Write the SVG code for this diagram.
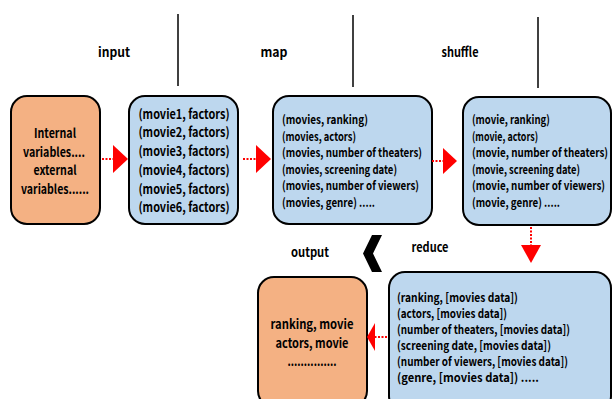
<svg xmlns="http://www.w3.org/2000/svg" width="612" height="399" viewBox="0 0 612 399">
  <style>
    text { font-family: "Noto Sans CJK KR", "Noto Sans", sans-serif; font-weight: bold; fill: #000; }
    .hdr { font-size: 13px; text-anchor: middle; }
    .box { stroke: #000; stroke-width: 2; }
    .blue { fill: #BDD7EE; }
    .orange { fill: #F4B183; }
    .t { font-size: 12px; }
    .tc { font-size: 13px; text-anchor: middle; }
    .sep { stroke: #000; stroke-width: 1.5; }
    .dot { stroke: #FF0000; stroke-width: 2; stroke-dasharray: 2 1.5; fill: none; }
    .head { fill: #FF0000; }
  </style>

  <!-- stage headings and separators -->
  <g id="headers">
    <text class="hdr" x="114" y="57" textLength="32" lengthAdjust="spacingAndGlyphs">input</text>
    <text class="hdr" x="274" y="57" textLength="27" lengthAdjust="spacingAndGlyphs">map</text>
    <text class="hdr" x="460" y="57" textLength="37" lengthAdjust="spacingAndGlyphs">shuffle</text>
    <line class="sep" x1="178" y1="14" x2="178" y2="86"/>
    <line class="sep" x1="353" y1="15" x2="353" y2="87"/>
    <line class="sep" x1="538" y1="17" x2="538" y2="88"/>
  </g>

  <g id="source">
    <rect class="box orange" x="11" y="96" width="89" height="128" rx="16"/>
    <text class="tc" x="55" y="137.5" textLength="42" lengthAdjust="spacingAndGlyphs">Internal</text>
    <text class="tc" x="54" y="156.5" textLength="62" lengthAdjust="spacingAndGlyphs">variables....</text>
    <text class="tc" x="55" y="174.5" textLength="43" lengthAdjust="spacingAndGlyphs">external</text>
    <text class="tc" x="55" y="193.5" textLength="68" lengthAdjust="spacingAndGlyphs">variables......</text>
  </g>

  <g id="input">
    <rect class="box blue" x="129" y="96" width="109" height="128" rx="16"/>
    <text class="tc" x="184" y="118.5" textLength="91" lengthAdjust="spacingAndGlyphs">(movie1, factors)</text>
    <text class="tc" x="184" y="137" textLength="91" lengthAdjust="spacingAndGlyphs">(movie2, factors)</text>
    <text class="tc" x="184" y="155.5" textLength="91" lengthAdjust="spacingAndGlyphs">(movie3, factors)</text>
    <text class="tc" x="184" y="174.5" textLength="91" lengthAdjust="spacingAndGlyphs">(movie4, factors)</text>
    <text class="tc" x="184" y="193.5" textLength="91" lengthAdjust="spacingAndGlyphs">(movie5, factors)</text>
    <text class="tc" x="184" y="212" textLength="91" lengthAdjust="spacingAndGlyphs">(movie6, factors)</text>
  </g>

  <g id="map">
    <rect class="box blue" x="273" y="96" width="159" height="128" rx="16"/>
    <text class="t" x="282" y="124" textLength="86" lengthAdjust="spacingAndGlyphs">(movies, ranking)</text>
    <text class="t" x="282" y="140.5" textLength="74" lengthAdjust="spacingAndGlyphs">(movies, actors)</text>
    <text class="t" x="282" y="157" textLength="140" lengthAdjust="spacingAndGlyphs">(movies, number of theaters)</text>
    <text class="t" x="282" y="173.5" textLength="115" lengthAdjust="spacingAndGlyphs">(movies, screening date)</text>
    <text class="t" x="282" y="190" textLength="137" lengthAdjust="spacingAndGlyphs">(movies, number of viewers)</text>
    <text class="t" x="282" y="206.5" textLength="93" lengthAdjust="spacingAndGlyphs">(movies, genre) .....</text>
  </g>

  <g id="shuffle">
    <rect class="box blue" x="463" y="97" width="148" height="128" rx="16"/>
    <text class="t" x="472" y="124" textLength="78" lengthAdjust="spacingAndGlyphs">(movie, ranking)</text>
    <text class="t" x="472" y="140.5" textLength="66" lengthAdjust="spacingAndGlyphs">(movie, actors)</text>
    <text class="t" x="472" y="157" textLength="136" lengthAdjust="spacingAndGlyphs">(movie, number of theaters)</text>
    <text class="t" x="472" y="173.5" textLength="108" lengthAdjust="spacingAndGlyphs">(movie, screening date)</text>
    <text class="t" x="472" y="190" textLength="133" lengthAdjust="spacingAndGlyphs">(movie, number of viewers)</text>
    <text class="t" x="472" y="206.5" textLength="88" lengthAdjust="spacingAndGlyphs">(movie, genre) .....</text>
  </g>

  <g id="reduce">
    <text class="hdr" x="430" y="252" textLength="37" lengthAdjust="spacingAndGlyphs">reduce</text>
    <rect class="box blue" x="389" y="272" width="222" height="140" rx="16"/>
    <text class="t" x="397" y="301.5" textLength="121" lengthAdjust="spacingAndGlyphs">(ranking, [movies data])</text>
    <text class="t" x="397" y="317.5" textLength="110" lengthAdjust="spacingAndGlyphs">(actors, [movies data])</text>
    <text class="t" x="397" y="333.5" textLength="173" lengthAdjust="spacingAndGlyphs">(number of theaters, [movies data])</text>
    <text class="t" x="397" y="349.5" textLength="154" lengthAdjust="spacingAndGlyphs">(screening date, [movies data])</text>
    <text class="t" x="397" y="365.5" textLength="171" lengthAdjust="spacingAndGlyphs">(number of viewers, [movies data])</text>
    <text class="t" x="397" y="381.5" textLength="142" lengthAdjust="spacingAndGlyphs">(genre, [movies data]) .....</text>
  </g>

  <g id="output">
    <text class="hdr" x="310" y="257" textLength="38" lengthAdjust="spacingAndGlyphs">output</text>
    <rect class="box orange" x="258" y="277" width="109" height="130" rx="16"/>
    <text class="tc" x="312" y="329" textLength="83" lengthAdjust="spacingAndGlyphs">ranking, movie</text>
    <text class="tc" x="312" y="348" textLength="73" lengthAdjust="spacingAndGlyphs">actors, movie</text>
    <text class="tc" x="312" y="366" textLength="49" lengthAdjust="spacingAndGlyphs">...............</text>
  </g>

  <!-- connectors: dotted red shafts with solid red heads -->
  <g id="connectors">
    <line class="dot" x1="102" y1="159" x2="113" y2="159"/>
    <polygon class="head" points="113,145 128,159 113,173"/>
    <line class="dot" x1="243" y1="159" x2="256" y2="159"/>
    <polygon class="head" points="256,145 271,159 256,173"/>
    <line class="dot" x1="432" y1="161" x2="443" y2="161"/>
    <polygon class="head" points="443,148 457,161 443,174"/>
    <line class="dot" x1="531" y1="227" x2="531" y2="245"/>
    <polygon class="head" points="521,245 541,245 531,263"/>
    <line class="dot" x1="387" y1="337" x2="375" y2="337"/>
    <polygon class="head" points="375,323 367,337 375,351"/>
    <polygon points="372,235 382,235 373,253.5 382,272 372,272 363,253.5" fill="#000"/>
  </g>
</svg>
